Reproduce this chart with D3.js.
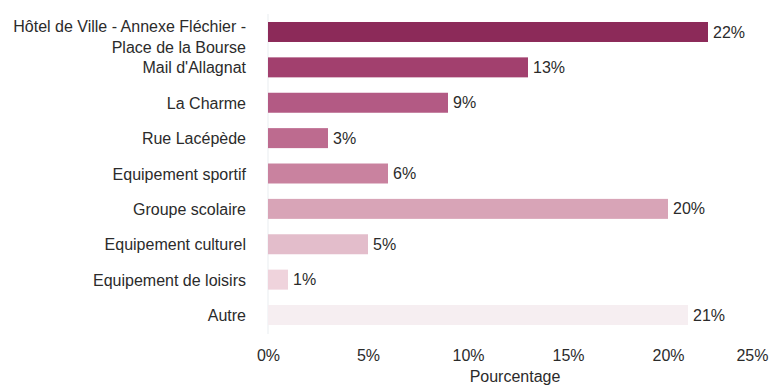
<!DOCTYPE html>
<html>
<head>
<meta charset="utf-8">
<script src="https://cdn.jsdelivr.net/npm/d3@7"></script>
<style>
  html, body { margin: 0; padding: 0; background: #fff; overflow: hidden; }
  svg { display: block; font-family: "Liberation Sans", Arial, sans-serif; }
</style>
</head>
<body>
<svg id="chart" width="769" height="385"></svg>
<script>
// Répartition des réponses par lieu (en %)
const categories = [
  ["Hôtel de Ville - Annexe Fléchier -", "Place de la Bourse"],
  ["Mail d'Allagnat"],
  ["La Charme"],
  ["Rue Lacépède"],
  ["Equipement sportif"],
  ["Groupe scolaire"],
  ["Equipement culturel"],
  ["Equipement de loisirs"],
  ["Autre"]
];
const values = [22, 13, 9, 3, 6, 20, 5, 1, 21];
const barColors = ["#8c2a59", "#a2406e", "#b35a84", "#bd6b8f", "#c9829f", "#d8a4b7", "#e3bdcb", "#efd3dc", "#f6eef1"];
const tickValues = [0, 5, 10, 15, 20, 25];
const axisTitle = "Pourcentage";

const svg = d3.select("#chart");
const width = 769;
const fontSize = 16;
const textColor = "#2b2b2b";

const x = d3.scaleLinear().domain([0, 25]).range([268, 768]);
const y = d3.scaleBand()
  .domain(d3.range(categories.length))
  .range([14.3, 332.7])
  .paddingInner(0.435)
  .paddingOuter(0.2175);
const cy = i => y(i) + y.bandwidth() / 2;

// faint baseline at 0 %
svg.append("line")
  .attr("x1", x(0)).attr("x2", x(0))
  .attr("y1", 14).attr("y2", 334)
  .attr("stroke", "#e9edf0").attr("stroke-width", 1);

// bars
svg.append("g").selectAll("rect")
  .data(values)
  .join("rect")
  .attr("x", x(0))
  .attr("y", (d, i) => y(i))
  .attr("width", d => x(d) - x(0))
  .attr("height", y.bandwidth())
  .attr("fill", (d, i) => barColors[i]);

// value labels
svg.append("g").selectAll("text")
  .data(values)
  .join("text")
  .attr("x", d => x(d) + 5)
  .attr("y", (d, i) => cy(i))
  .attr("dy", "0.35em")
  .attr("font-size", fontSize)
  .attr("fill", textColor)
  .text(d => d + "%");

// category labels (multi-line labels hang below the first line)
const labelX = 246;
svg.append("g").selectAll("text")
  .data(categories)
  .join("text")
  .attr("x", labelX)
  .attr("y", (d, i) => cy(i))
  .attr("text-anchor", "end")
  .attr("font-size", fontSize)
  .attr("fill", textColor)
  .each(function (lines) {
    const t = d3.select(this);
    lines.forEach((line, k) => {
      t.append("tspan")
        .attr("x", labelX)
        .attr("dy", k === 0 ? (lines.length > 1 ? "0em" : "0.38em") : "21px")
        .text(line);
    });
  });

// x axis
const xAxis = d3.axisBottom(x)
  .tickValues(tickValues)
  .tickFormat(d => d + "%")
  .tickSize(0)
  .tickPadding(0);
const axG = svg.append("g")
  .attr("transform", "translate(0, 361)")
  .call(xAxis);
axG.select(".domain").remove();
axG.selectAll("text")
  .attr("dy", 0)
  .attr("font-size", fontSize)
  .attr("fill", textColor)
  .attr("font-family", "Liberation Sans, Arial, sans-serif")
  .attr("text-anchor", d => d === 25 ? "end" : "middle");

svg.append("text")
  .attr("x", 515)
  .attr("y", 382)
  .attr("text-anchor", "middle")
  .attr("font-size", fontSize)
  .attr("fill", textColor)
  .text(axisTitle);
</script>
</body>
</html>
